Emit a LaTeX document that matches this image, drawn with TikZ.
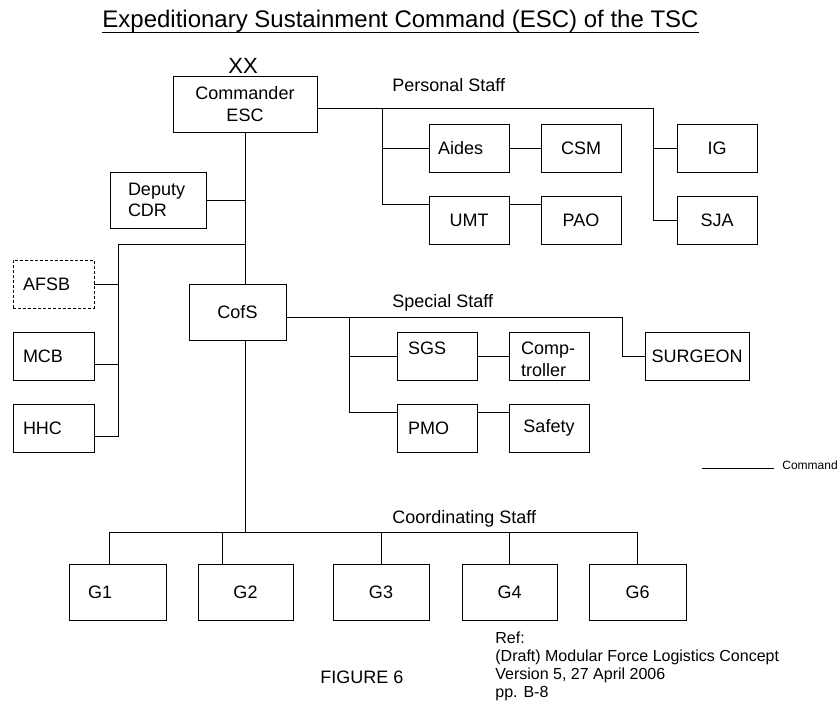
\documentclass[tikz,border=0pt]{standalone}
\usepackage{fontspec}
\setmainfont{Liberation Sans}
\usetikzlibrary{positioning,calc}

\begin{document}
\begin{tikzpicture}[x=1pt,y=-1pt,line width=0.8pt,
    every node/.style={font=\fontsize{18}{21.5}\selectfont},
    box/.style={draw, align=center, minimum width=80pt, minimum height=48pt, inner sep=0pt},
    tall/.style={minimum height=56pt},
    lbox/.style 2 args={box, align=left, inner xsep=#1, text width=#2},
    lbl/.style={inner sep=0pt, anchor=base west}]
    \useasboundingbox (0,0) rectangle (837,702);

    \node[lbl, font=\fontsize{24}{28}\selectfont] (title) at (102,27) {Expeditionary Sustainment Command (ESC) of the TSC};
    \draw[line width=1.4pt] (title.south west) -- (title.south east);
    \node[inner sep=0pt, anchor=base, font=\fontsize{22}{26}\selectfont] (xx) at (243,73) {XX};

    \node[box, tall, minimum width=144pt] (cmd) at (245,104) {Commander\\ESC};
    \node[lbox={18pt}{60pt}, tall] (dep) at (158,200) {Deputy\\CDR};
    \node[lbox={10pt}{61pt}, dash pattern=on 3pt off 2pt] (afsb) at (53.5,284) {AFSB};
    \node[lbox={10pt}{61pt}] (mcb) at (53.5,356) {MCB};
    \node[lbox={10pt}{61pt}] (hhc) at (53.5,428) {HHC};
    \node[box, tall, minimum width=97pt] (cofs) at (237.5,312) {CofS};

    \node[lbl] (pstaff) at (392,91) {Personal Staff};
    \node[lbox={9pt}{62pt}] (aides) at (469,148) {Aides};
    \node[box] (csm) at (581,148) {CSM};
    \node[box] (umt) at (469,220) {UMT};
    \node[box] (pao) at (581,220) {PAO};
    \node[box] (ig) at (717,148) {IG};
    \node[box] (sja) at (717,220) {SJA};

    \node[lbl] (sstaff) at (392,307) {Special Staff};
    \node[lbox={11pt}{58pt}, text depth=15pt] (sgs) at (437,356) {SGS};
    \node[lbox={12pt}{56pt}, text height=19pt] (comp) at (549,356) {Comp-\\troller};
    \node[box, minimum width=104pt] (surg) at (697,356) {SURGEON};
    \node[lbox={11pt}{58pt}] (pmo) at (437,428) {PMO};
    \node[box] (safe) at (549,428) {Safety};

    \node[lbl] (cstaff) at (392,523) {Coordinating Staff};
    \node[lbox={19pt}{59pt}, tall] (g1) at (117.5,592) {G1};
    \node[box, tall, minimum width=95pt] (g2) at (245.5,592) {G2};
    \node[box, tall, minimum width=96pt] (g3) at (381,592) {G3};
    \node[box, tall, minimum width=95pt] (g4) at (509.5,592) {G4};
    \node[box, tall, minimum width=97pt] (g6) at (637.5,592) {G6};

    \node[lbl] (fig) at (320,683) {FIGURE 6};
    \node[inner sep=0pt, anchor=north west, align=left, font=\fontsize{16}{18}\selectfont] (ref) at (495,632) {Ref:\\(Draft) Modular Force Logistics Concept\\Version 5, 27 April 2006\\pp. B-8};

    \coordinate (keystart) at (702,468);
    \coordinate (keyend) at (774,468);
    \draw (keystart) -- (keyend);
    \node[lbl, font=\fontsize{12}{14}\selectfont] (cmdkey) at (782,469) {Command};

    \coordinate (lbus) at (118,244);
    \coordinate (pbus) at (382,108);
    \coordinate (pend) at (653,108);
    \coordinate (sbus) at (349,317);
    \coordinate (send) at (622,317);
    \coordinate (cbus) at (245,532);

    \draw (cmd.south) -- (cmd.south |- cofs.north);
    \draw (dep.east) -- (dep.east -| cmd.south);
    \draw (cmd.south |- lbus) -- (lbus);
    \draw (afsb.east) -| (lbus);
    \draw ([yshift=-8pt]mcb.east) -| (lbus);
    \draw ([yshift=-8pt]hhc.east) -| (lbus);

    \draw ([yshift=-4pt]cmd.east) -- (pend);
    \draw (aides.west) -| (pbus);
    \draw ([yshift=16pt]umt.west) -| (pbus);
    \draw (aides.east) -- (csm.west);
    \draw ([yshift=16pt]umt.east) -- ([yshift=16pt]pao.west);
    \draw (ig.west) -| (pend);
    \draw (sja.west) -| (pend);

    \draw ([yshift=-5pt]cofs.east) -- (send);
    \draw (sgs.west) -| (sbus);
    \draw ([yshift=16pt]pmo.west) -| (sbus);
    \draw (sgs.east) -- (comp.west);
    \draw ([yshift=16pt]pmo.east) -- ([yshift=16pt]safe.west);
    \draw (surg.west) -| (send);

    \draw (cofs.south -| cmd.south) -- (cbus);
    \draw ([xshift=-8.5pt]g1.north) |- (g6.north |- cbus) -- (g6.north);
    \draw ([xshift=-23.5pt]g2.north) |- (cbus);
    \draw (g3.north) |- (cbus);
    \draw (g4.north) |- (cbus);
\end{tikzpicture}
\end{document}
